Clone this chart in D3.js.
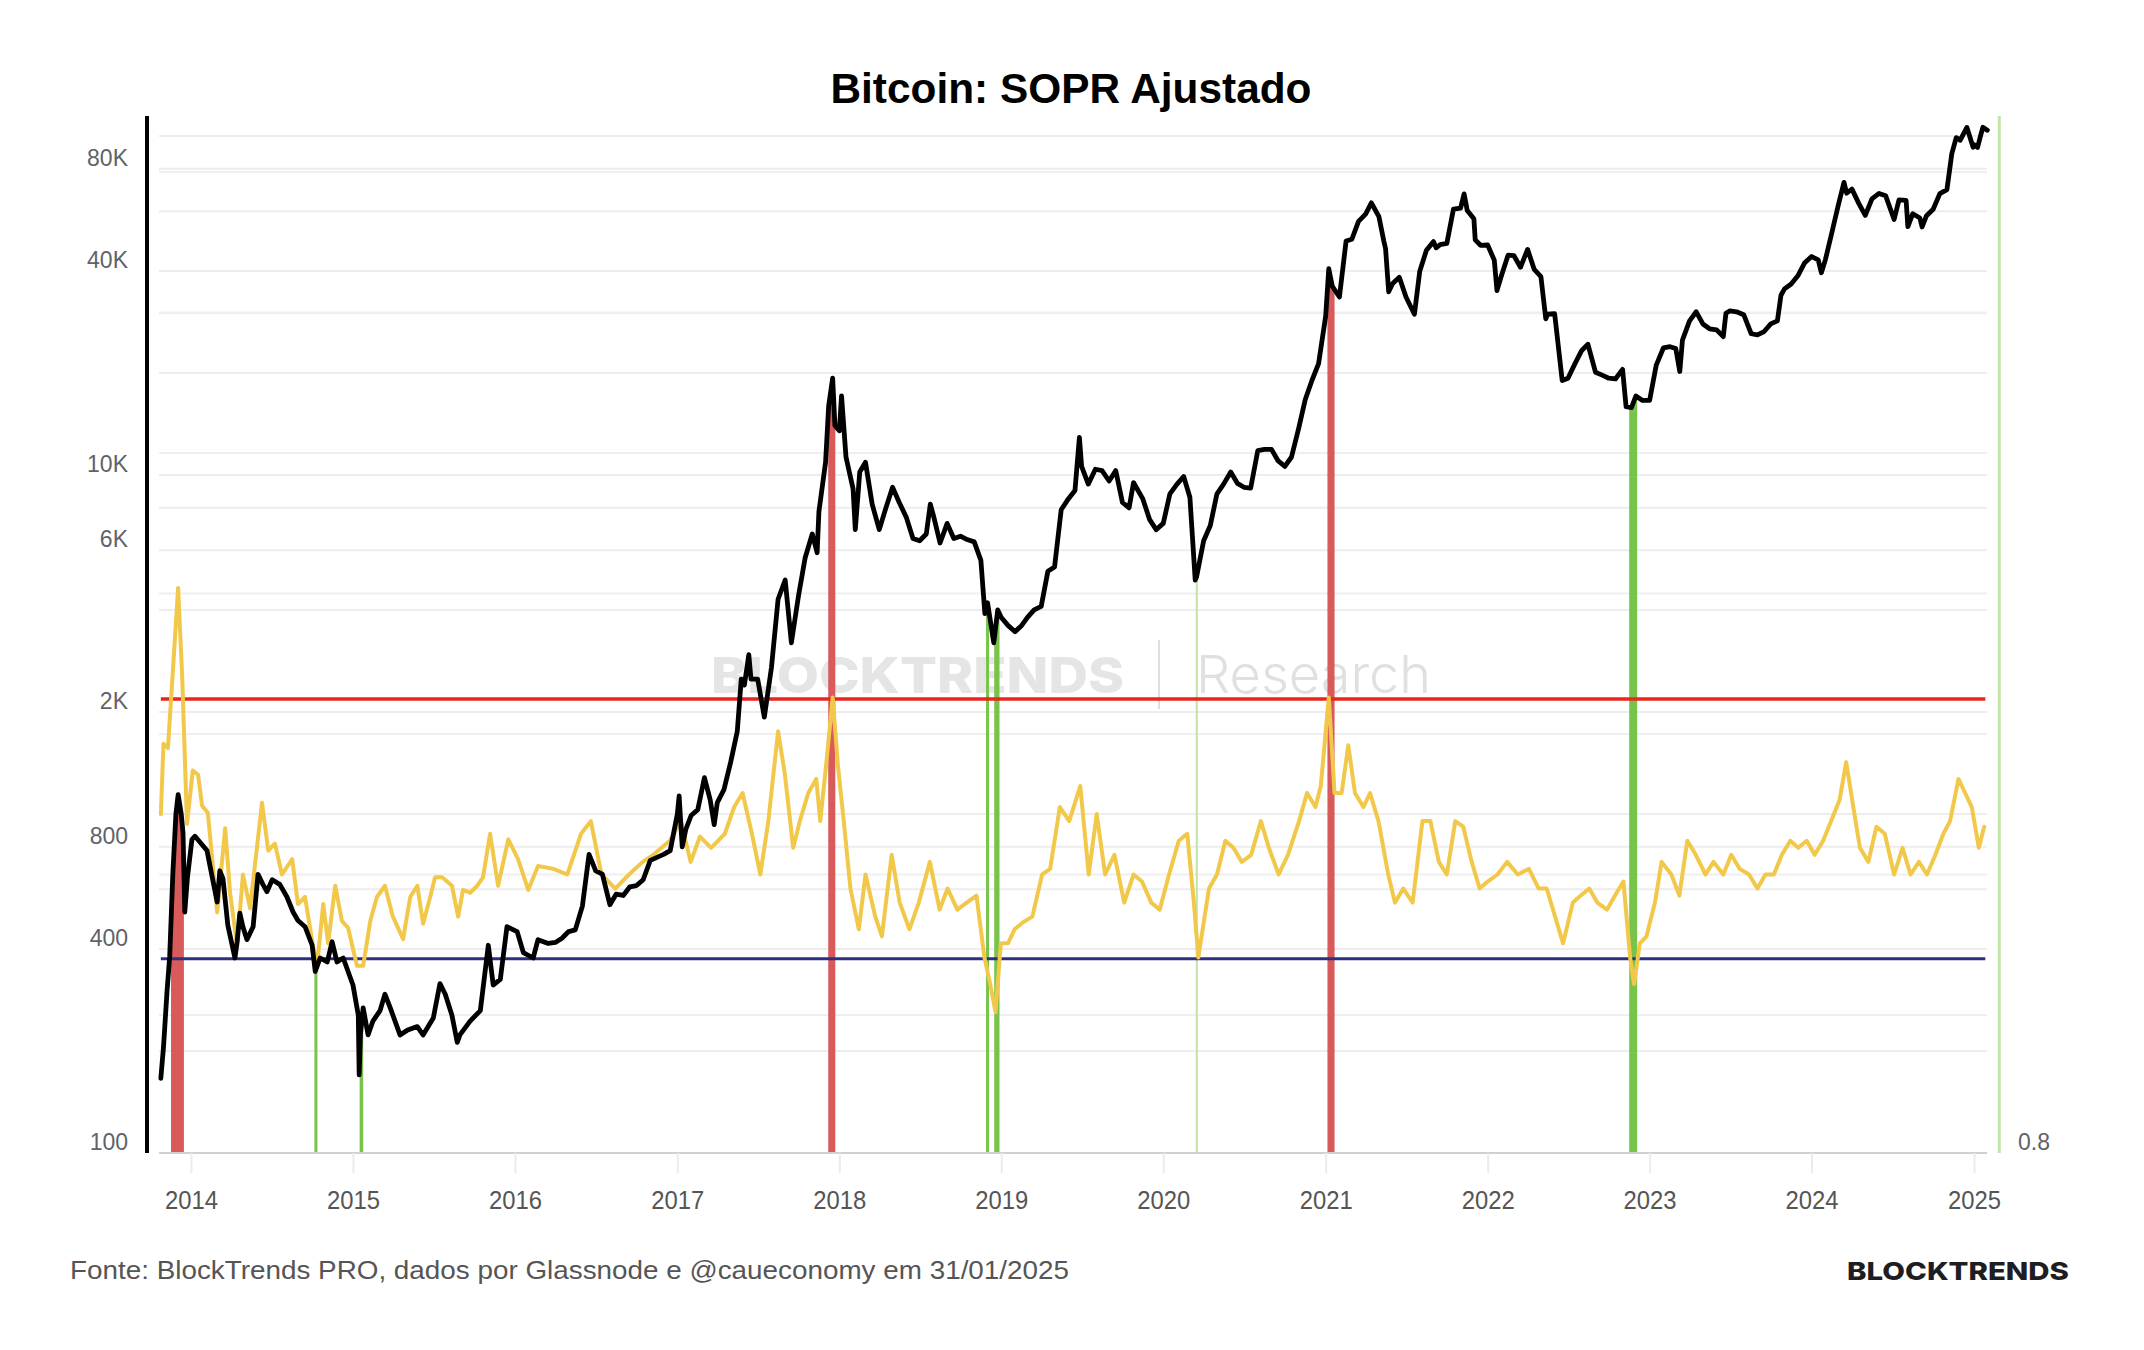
<!DOCTYPE html>
<html><head><meta charset="utf-8">
<script src="https://cdn.jsdelivr.net/npm/d3@7"></script>
<style>body{margin:0;background:#fff}</style>
</head><body>
<svg id="chart" width="2144" height="1350"></svg>
<script>
// ---------------- DATA ----------------
const chartTitle = "Bitcoin: SOPR Ajustado";
const sourceNote = "Fonte: BlockTrends PRO, dados por Glassnode e @caueconomy em 31/01/2025";
const brandName = "BLOCKTRENDS";

const priceDates = ["2013-10-25","2013-10-31","2013-11-08","2013-11-14","2013-11-21","2013-11-28","2013-12-03","2013-12-10","2013-12-14","2013-12-18","2013-12-24",
"2014-01-03","2014-01-10","2014-01-20","2014-02-06","2014-02-17","2014-03-01","2014-03-07","2014-03-14","2014-03-25","2014-04-10","2014-04-15","2014-04-21","2014-04-28","2014-05-07","2014-05-21","2014-06-01","2014-06-12","2014-06-21","2014-07-03","2014-07-20","2014-08-05","2014-08-19","2014-08-30","2014-09-15","2014-10-01","2014-10-08","2014-10-19","2014-11-04","2014-11-15","2014-11-26","2014-12-10",
"2015-01-01","2015-01-13","2015-01-15","2015-01-18","2015-01-24","2015-02-04","2015-02-15","2015-03-03","2015-03-14","2015-03-26","2015-04-17","2015-05-03","2015-05-26","2015-06-08","2015-07-01","2015-07-16","2015-07-28","2015-08-12","2015-08-24","2015-08-30","2015-09-22","2015-10-15","2015-11-02","2015-11-13","2015-11-29","2015-12-14",
"2016-01-06","2016-01-20","2016-02-11","2016-02-22","2016-03-16","2016-04-01","2016-04-16","2016-05-01","2016-05-16","2016-06-01","2016-06-16","2016-07-01","2016-07-16","2016-08-02","2016-08-16","2016-09-01","2016-09-16","2016-10-01","2016-10-16","2016-11-01","2016-11-16","2016-12-01","2016-12-16",
"2017-01-01","2017-01-05","2017-01-12","2017-01-20","2017-02-01","2017-02-16","2017-03-03","2017-03-16","2017-03-25","2017-04-01","2017-04-16","2017-05-01","2017-05-16","2017-05-25","2017-06-01","2017-06-11","2017-06-16","2017-07-01","2017-07-16","2017-08-01","2017-08-16","2017-09-01","2017-09-15","2017-10-01","2017-10-16","2017-11-01","2017-11-12","2017-11-16","2017-12-01","2017-12-08","2017-12-17","2017-12-22",
"2018-01-01","2018-01-06","2018-01-16","2018-02-01","2018-02-06","2018-02-16","2018-03-01","2018-03-16","2018-04-01","2018-04-16","2018-05-01","2018-05-16","2018-06-01","2018-06-16","2018-07-01","2018-07-16","2018-07-25","2018-08-01","2018-08-16","2018-09-01","2018-09-16","2018-10-01","2018-10-16","2018-11-01","2018-11-16","2018-11-25","2018-12-01","2018-12-15","2018-12-24",
"2019-01-01","2019-01-16","2019-02-01","2019-02-16","2019-03-01","2019-03-16","2019-04-01","2019-04-16","2019-05-01","2019-05-16","2019-06-01","2019-06-16","2019-06-26","2019-07-01","2019-07-16","2019-08-01","2019-08-16","2019-09-01","2019-09-16","2019-10-01","2019-10-16","2019-10-26","2019-11-01","2019-11-16","2019-12-01","2019-12-16",
"2020-01-01","2020-01-16","2020-02-01","2020-02-16","2020-03-01","2020-03-13","2020-03-16","2020-04-01","2020-04-16","2020-05-01","2020-05-16","2020-06-01","2020-06-16","2020-07-01","2020-07-16","2020-08-01","2020-08-16","2020-09-01","2020-09-16","2020-10-01","2020-10-16","2020-11-01","2020-11-16","2020-12-01","2020-12-16",
"2021-01-01","2021-01-08","2021-01-16","2021-02-01","2021-02-16","2021-03-01","2021-03-16","2021-04-01","2021-04-14","2021-05-01","2021-05-12","2021-05-16","2021-05-23","2021-06-01","2021-06-16","2021-07-01","2021-07-20","2021-08-01","2021-08-16","2021-09-01","2021-09-07","2021-09-16","2021-10-01","2021-10-16","2021-11-01","2021-11-09","2021-11-16","2021-12-01","2021-12-04","2021-12-16",
"2022-01-01","2022-01-16","2022-01-22","2022-02-01","2022-02-16","2022-03-01","2022-03-16","2022-04-01","2022-04-16","2022-05-01","2022-05-12","2022-05-16","2022-06-01","2022-06-18","2022-07-01","2022-07-16","2022-08-01","2022-08-15","2022-09-01","2022-09-16","2022-10-01","2022-10-16","2022-11-01","2022-11-09","2022-11-21","2022-12-01","2022-12-16",
"2023-01-01","2023-01-16","2023-02-01","2023-02-16","2023-03-01","2023-03-10","2023-03-16","2023-04-01","2023-04-16","2023-05-01","2023-05-16","2023-06-01","2023-06-16","2023-06-22","2023-07-01","2023-07-16","2023-08-01","2023-08-18","2023-09-01","2023-09-16","2023-10-01","2023-10-16","2023-10-24","2023-11-01","2023-11-16","2023-12-01","2023-12-16",
"2024-01-01","2024-01-16","2024-01-23","2024-02-01","2024-02-16","2024-03-01","2024-03-14","2024-03-20","2024-04-01","2024-04-16","2024-05-01","2024-05-16","2024-06-01","2024-06-16","2024-07-05","2024-07-16","2024-08-01","2024-08-05","2024-08-16","2024-09-01","2024-09-06","2024-09-16","2024-10-01","2024-10-16","2024-11-01","2024-11-12","2024-11-22","2024-12-01","2024-12-16","2024-12-30",
"2025-01-01","2025-01-09","2025-01-16","2025-01-21","2025-01-31"];
const priceValues = [166,205,300,380,664,1000,1140,1000,880,514,650,
840,860,830,780,660,550,680,645,470,376,420,510,465,426,465,664,620,590,640,620,570,514,485,465,410,343,376,366,420,366,376,
313,255,170,225,268,223,245,263,294,268,223,230,236,223,250,316,294,255,212,223,245,263,410,313,325,465,
450,390,376,426,415,418,430,450,455,535,760,680,665,540,580,575,610,615,640,730,745,760,780,
1000,1130,800,900,990,1030,1280,1100,930,1080,1180,1420,1750,2500,2400,2950,2500,2500,1930,2700,4300,4900,3200,4400,5700,6700,5900,7800,10900,16000,19300,14000,
13500,17100,11300,9100,6900,10200,10900,8200,6900,8000,9200,8300,7500,6500,6400,6700,8200,7600,6300,7200,6500,6600,6450,6350,5600,3900,4200,3200,4000,
3800,3600,3450,3600,3800,4000,4100,5200,5350,7900,8500,9000,12900,10600,9400,10400,10300,9600,10300,8300,8000,9500,9200,8500,7400,6900,
7200,8800,9400,9900,8600,4900,5000,6400,7100,8800,9400,10200,9450,9200,9150,11800,11900,11900,11000,10600,11300,13700,16700,19000,21300,
29400,40600,36000,33500,49000,49600,56000,58800,63500,57800,49000,46500,34700,36700,38300,33500,29800,39900,46000,48800,46800,47800,48200,60900,61300,67500,60300,57000,49400,47600,
47700,43000,35000,38700,44500,44400,41000,46300,40400,38500,28900,29800,29900,19000,19300,21200,23300,24300,20100,19700,19300,19200,20500,15900,15800,17100,16600,
16600,21100,23700,23900,23600,20200,25000,28500,30300,27900,27000,26800,25600,30000,30500,30300,29700,26100,25900,26500,27900,28500,33900,35400,36600,38700,42200,
44100,43100,39500,43100,52100,62400,73000,67800,69700,63400,58300,65200,67700,66600,56700,64800,64600,54000,59000,57300,53900,58200,60800,67600,69500,88700,98900,97200,106000,92600,
94400,92500,100400,106100,104000];

const soprDates = ["2013-10-25","2013-10-31","2013-11-10","2013-11-21","2013-12-03","2013-12-12","2013-12-23",
"2014-01-05","2014-01-17","2014-01-26","2014-02-08","2014-03-01","2014-03-19","2014-03-30","2014-04-15","2014-04-28","2014-05-14","2014-06-10","2014-06-24","2014-07-09","2014-07-25","2014-08-17","2014-08-30","2014-09-15","2014-10-03","2014-10-12","2014-10-26","2014-11-06","2014-11-22","2014-12-07","2014-12-21",
"2015-01-10","2015-01-24","2015-02-09","2015-02-24","2015-03-14","2015-04-01","2015-04-24","2015-05-10","2015-05-26","2015-06-08","2015-06-24","2015-07-05","2015-07-21","2015-08-12","2015-08-26","2015-09-06","2015-09-22","2015-10-08","2015-10-21","2015-11-06","2015-11-24","2015-12-17",
"2016-01-08","2016-01-31","2016-02-22","2016-03-28","2016-04-28","2016-05-29","2016-06-20","2016-07-14","2016-08-14","2016-09-14","2016-10-15","2016-11-08","2016-12-15",
"2017-01-09","2017-01-31","2017-02-21","2017-03-18","2017-04-18","2017-05-09","2017-05-28","2017-06-18","2017-07-07","2017-07-25","2017-08-16","2017-08-31","2017-09-19","2017-10-04","2017-10-23","2017-11-10","2017-11-19","2017-12-02","2017-12-17","2017-12-29",
"2018-01-11","2018-01-26","2018-02-14","2018-03-01","2018-03-23","2018-04-07","2018-04-29","2018-05-17","2018-06-08","2018-06-29","2018-07-24","2018-08-15","2018-09-02","2018-09-24","2018-10-15","2018-11-06","2018-11-24","2018-12-07","2018-12-19","2018-12-31",
"2019-01-16","2019-01-31","2019-02-19","2019-03-12","2019-04-03","2019-04-21","2019-05-13","2019-06-03","2019-06-28","2019-07-17","2019-08-04","2019-08-23","2019-09-13","2019-10-05","2019-10-26","2019-11-14","2019-12-05","2019-12-24",
"2020-01-14","2020-02-05","2020-02-24","2020-03-10","2020-03-20","2020-04-13","2020-05-01","2020-05-20","2020-06-07","2020-06-26","2020-07-17","2020-08-08","2020-08-26","2020-09-17","2020-10-08","2020-11-02","2020-11-20","2020-12-09","2020-12-21",
"2021-01-08","2021-01-21","2021-02-06","2021-02-21","2021-03-08","2021-03-27","2021-04-11","2021-04-30","2021-05-22","2021-06-06","2021-06-25","2021-07-16","2021-08-07","2021-08-25","2021-09-13","2021-10-01","2021-10-20","2021-11-07","2021-11-26","2021-12-14",
"2022-01-01","2022-01-23","2022-02-14","2022-03-10","2022-04-04","2022-04-26","2022-05-14","2022-06-02","2022-06-20","2022-07-12","2022-07-30","2022-08-18","2022-09-05","2022-09-27","2022-10-15","2022-11-03","2022-11-18","2022-11-27","2022-12-10","2022-12-25",
"2023-01-13","2023-01-28","2023-02-19","2023-03-09","2023-03-27","2023-04-15","2023-05-07","2023-05-25","2023-06-16","2023-07-04","2023-07-23","2023-08-13","2023-09-01","2023-09-19","2023-10-08","2023-10-26","2023-11-14","2023-12-02","2023-12-21",
"2024-01-08","2024-01-27","2024-02-14","2024-03-04","2024-03-19","2024-04-04","2024-04-19","2024-05-08","2024-05-26","2024-06-14","2024-07-05","2024-07-24","2024-08-11","2024-08-30","2024-09-17","2024-10-06","2024-10-24","2024-11-08","2024-11-27","2024-12-12","2024-12-27",
"2025-01-12","2025-01-24"];
const soprValues = [1.043,1.093,1.090,1.144,1.204,1.142,1.036,
1.074,1.071,1.049,1.044,0.973,1.033,0.987,0.949,1.000,0.976,1.051,1.017,1.022,1.000,1.011,0.979,0.984,0.949,0.935,0.979,0.951,0.992,0.967,0.962,
0.935,0.935,0.967,0.984,0.992,0.970,0.954,0.984,0.992,0.965,0.984,0.998,0.998,0.992,0.970,0.989,0.987,0.992,0.998,1.029,0.992,1.025,
1.011,0.989,1.006,1.004,1.000,1.029,1.038,1.000,0.990,1.000,1.009,1.014,1.024,
1.038,1.009,1.027,1.019,1.029,1.048,1.058,1.029,1.000,1.038,1.102,1.072,1.019,1.038,1.058,1.068,1.038,1.077,1.126,1.077,
1.038,0.990,0.961,1.000,0.970,0.956,1.014,0.980,0.961,0.980,1.009,0.975,0.990,0.975,0.980,0.985,0.941,0.922,0.902,0.951,
0.951,0.961,0.966,0.970,1.000,1.004,1.048,1.038,1.063,1.000,1.043,1.000,1.014,0.980,1.000,0.995,0.980,0.975,
1.000,1.024,1.029,0.980,0.941,0.990,1.000,1.024,1.019,1.009,1.014,1.038,1.019,1.000,1.014,1.038,1.058,1.048,1.063,
1.126,1.058,1.058,1.092,1.058,1.048,1.058,1.038,1.000,0.980,0.990,0.980,1.038,1.038,1.009,1.000,1.038,1.034,1.009,0.990,
0.995,1.000,1.009,1.000,1.004,0.990,0.990,0.970,0.951,0.980,0.985,0.990,0.980,0.975,0.985,0.995,0.941,0.922,0.951,0.956,
0.980,1.009,1.000,0.985,1.024,1.014,1.000,1.009,1.000,1.014,1.004,1.000,0.990,1.000,1.000,1.014,1.024,1.019,1.024,
1.014,1.024,1.038,1.053,1.080,1.048,1.019,1.009,1.034,1.029,1.000,1.019,1.000,1.009,1.000,1.014,1.029,1.038,1.068,1.058,1.048,
1.019,1.034];

const upperThreshold = 1.125;   // red line (SOPR)
const lowerThreshold = 0.94;    // blue line (SOPR)

// periods where aSOPR crossed the thresholds
const sellZones = [["2013-11-17","2013-12-16"],["2017-12-07","2017-12-23"],["2021-01-05","2021-01-21"]];
const buyZones = [["2014-10-07","2014-10-12"],["2015-01-16","2015-01-24"],["2018-11-29","2018-12-03"],["2018-12-16","2018-12-28"],["2022-11-16","2022-12-04"]];
const weakBuyZones = [["2020-03-15","2020-03-18"]];
const markerDates = ["2025-02-27"];

const yearTicks = ["2014","2015","2016","2017","2018","2019","2020","2021","2022","2023","2024","2025"];
const priceGridValues = [100000,80000,60000,40000,30000,20000,10000,8000,6000,4000,2000,1000,800,600,400,200];
const soprGridValues = [0.9,1.0,1.1,1.2,1.3,1.4,1.5];
const priceTickValues = [80000,40000,10000,6000,2000,800,400,100];
const priceTickLabels = ["80K","40K","10K","6K","2K","800","400","100"];
const soprTickValues = [0.8];
const soprTickLabels = ["0.8"];

// ---------------- LAYOUT ----------------
const W = 2144, H = 1350;
const plot = {left:159, right:1987, top:116, bottom:1153};
const svg = d3.select("#chart");
svg.append("rect").attr("width",W).attr("height",H).attr("fill","#fff");

const parse = d3.utcParse("%Y-%m-%d");
const x = d3.scaleUtc().domain([parse("2014-01-01"), parse("2025-01-01")]).range([191, 1974]);
const y = d3.scaleLog().domain([100, 100000]).range([1153, 136]);
const ys = d3.scaleLinear().domain([0.9, 1.3]).range([1015, 453]);

const price = priceDates.map((d,i)=>({date:parse(d), value:priceValues[i]}));
const sopr = soprDates.map((d,i)=>({date:parse(d), value:soprValues[i]}));

// gridlines
const grid = svg.append("g");
grid.selectAll("line.pg").data(priceGridValues).join("line")
  .attr("x1",plot.left).attr("x2",plot.right)
  .attr("y1",d=>y(d)).attr("y2",d=>y(d))
  .attr("stroke","#ededed").attr("stroke-width",2);
grid.selectAll("line.sg").data(soprGridValues).join("line")
  .attr("x1",plot.left).attr("x2",plot.right)
  .attr("y1",d=>ys(d)).attr("y2",d=>ys(d))
  .attr("stroke","#efefef").attr("stroke-width",2);

// watermark
const wm = svg.append("g");
wm.append("text").attr("x",711).attr("y",693).attr("font-family","Inter, 'Noto Sans', sans-serif")
  .attr("font-weight",800).attr("font-size",50).attr("fill","#e5e5e5")
  .attr("textLength",413).attr("lengthAdjust","spacingAndGlyphs").text("BLOCKTRENDS");
wm.append("line").attr("x1",1159).attr("x2",1159).attr("y1",640).attr("y2",709)
  .attr("stroke","#dedede").attr("stroke-width",2);
wm.append("text").attr("x",1196).attr("y",693).attr("font-family","Inter, 'Noto Sans', sans-serif")
  .attr("font-weight",300).attr("font-size",52).attr("fill","#e0e0e0")
  .attr("textLength",235).attr("lengthAdjust","spacingAndGlyphs").text("Research");

// helpers for zones under the price curve
const bis = d3.bisector(d=>d.date).left;
function priceAt(t){
  const i = bis(price, t);
  if (i<=0) return price[0].value;
  if (i>=price.length) return price[price.length-1].value;
  const a = price[i-1], b = price[i];
  const f = (t-a.date)/(b.date-a.date);
  return Math.exp(Math.log(a.value)*(1-f)+Math.log(b.value)*f);
}
function zonePts(z, minW){
  let t0 = parse(z[0]), t1 = parse(z[1]);
  const w = x(t1)-x(t0);
  if (w < minW){
    const c = (x(t0)+x(t1))/2;
    t0 = x.invert(c-minW/2); t1 = x.invert(c+minW/2);
  }
  const pts = [{date:t0, value:priceAt(t0)}];
  price.forEach(d=>{ if (d.date>t0 && d.date<t1) pts.push(d); });
  pts.push({date:t1, value:priceAt(t1)});
  return pts;
}
const zoneArea = d3.area().x(d=>x(d.date)).y0(plot.bottom).y1(d=>y(d.value));
const zones = svg.append("g");
zones.selectAll("path.sell").data(sellZones).join("path")
  .attr("d",z=>zoneArea(zonePts(z,3))).attr("fill","#d85a5b");
zones.selectAll("path.buy").data(buyZones).join("path")
  .attr("d",z=>zoneArea(zonePts(z,3))).attr("fill","#78c44b");
zones.selectAll("path.weak").data(weakBuyZones).join("path")
  .attr("d",z=>zoneArea(zonePts(z,2))).attr("fill","#bfe3a6");
zones.selectAll("line.marker").data(markerDates).join("line")
  .attr("x1",d=>x(parse(d))).attr("x2",d=>x(parse(d)))
  .attr("y1",plot.top).attr("y2",plot.bottom)
  .attr("stroke","#c2e6a9").attr("stroke-width",3);

// threshold lines
const tStart = x(price[0].date), tEnd = x(price[price.length-1].date)-2;
svg.append("line").attr("x1",tStart).attr("x2",tEnd)
  .attr("y1",ys(upperThreshold)).attr("y2",ys(upperThreshold))
  .attr("stroke","#e8261d").attr("stroke-width",3.5);
svg.append("line").attr("x1",tStart).attr("x2",tEnd)
  .attr("y1",ys(lowerThreshold)).attr("y2",ys(lowerThreshold))
  .attr("stroke","#2d307f").attr("stroke-width",3);

// SOPR line
svg.append("path").datum(sopr)
  .attr("d", d3.line().x(d=>x(d.date)).y(d=>ys(d.value)))
  .attr("fill","none").attr("stroke","#f2c84b").attr("stroke-width",4)
  .attr("stroke-linejoin","round").attr("stroke-linecap","round");

// price line
svg.append("path").datum(price)
  .attr("d", d3.line().x(d=>x(d.date)).y(d=>y(d.value)))
  .attr("fill","none").attr("stroke","#000").attr("stroke-width",4.8)
  .attr("stroke-linejoin","round").attr("stroke-linecap","round");

// left axis line
svg.append("line").attr("x1",147).attr("x2",147).attr("y1",plot.top).attr("y2",plot.bottom)
  .attr("stroke","#000").attr("stroke-width",4);

// left labels
svg.append("g").selectAll("text").data(priceTickValues).join("text")
  .attr("x",128).attr("y",d=>y(d)-3).attr("text-anchor","end")
  .attr("font-family","'Liberation Sans', Arial, sans-serif").attr("font-size",23)
  .attr("fill","#5f6368").text((d,i)=>priceTickLabels[i]);

// right label
svg.append("g").selectAll("text").data(soprTickValues).join("text")
  .attr("x",2018).attr("y",d=>Math.min(ys(d), plot.bottom)-3)
  .attr("font-family","'Liberation Sans', Arial, sans-serif").attr("font-size",23)
  .attr("fill","#5f6368").text((d,i)=>soprTickLabels[i]);

// bottom axis
svg.append("line").attr("x1",plot.left).attr("x2",plot.right).attr("y1",plot.bottom).attr("y2",plot.bottom)
  .attr("stroke","#d0d0d0").attr("stroke-width",2);
const xAxis = d3.axisBottom(x).tickValues(yearTicks.map(s=>parse(s+"-01-01")))
  .tickFormat(d3.utcFormat("%Y")).tickSize(20).tickPadding(18);
const xg = svg.append("g").attr("transform",`translate(0,${plot.bottom})`).call(xAxis);
xg.select(".domain").remove();
xg.selectAll(".tick line").attr("stroke","#ebebeb").attr("stroke-width",2);
xg.selectAll(".tick text").attr("font-family","'Liberation Sans', Arial, sans-serif")
  .attr("font-size",26).attr("fill","#555").attr("textLength",53).attr("lengthAdjust","spacingAndGlyphs");

// title
svg.append("text").attr("x",1071).attr("y",103).attr("text-anchor","middle")
  .attr("font-family","'Liberation Sans', Arial, sans-serif").attr("font-weight",700)
  .attr("font-size",43).attr("fill","#000")
  .attr("textLength",481).attr("lengthAdjust","spacingAndGlyphs").text(chartTitle);

// footer
svg.append("text").attr("x",70).attr("y",1279)
  .attr("font-family","'Liberation Sans', Arial, sans-serif").attr("font-size",26).attr("fill","#555")
  .attr("textLength",999).attr("lengthAdjust","spacingAndGlyphs").text(sourceNote);
svg.append("text").attr("x",1847).attr("y",1280)
  .attr("font-family","Inter, 'Noto Sans', sans-serif").attr("font-weight",800).attr("font-size",25)
  .attr("fill","#1e1e22").attr("textLength",222).attr("lengthAdjust","spacingAndGlyphs").text(brandName);
</script>
</body></html>
